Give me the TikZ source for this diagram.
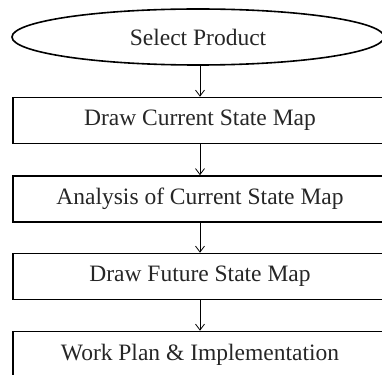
\documentclass[tikz,border=0pt]{standalone}
\usepackage{fontspec}
\setmainfont{Liberation Serif}
\usetikzlibrary{shapes.geometric,arrows.meta}
\begin{document}
\begin{tikzpicture}[x=1pt,y=-1pt,
  stepbox/.style={draw=black,line width=1.6pt,rectangle,minimum width=374pt,minimum height=46pt,inner sep=0pt,font=\fontsize{23.5}{26}\selectfont,text=black!85},
  startnode/.style={draw=black,line width=1.6pt,ellipse,minimum width=372pt,minimum height=56pt,inner sep=0pt,font=\fontsize{23.5}{26}\selectfont,text=black!85},
  flow/.style={line width=0.8pt,-{Straight Barb[length=6pt,width=9pt,line width=0.8pt]}}]
\useasboundingbox (0,0) rectangle (382,374);
\clip (0,0) rectangle (382,374);
\node[startnode] (s) at (198,37) {Select Product};
\node[stepbox] (b1) at (200,120.5) {Draw Current State Map};
\node[stepbox] (b2) at (200,199) {Analysis of Current State Map};
\node[stepbox] (b3) at (200,276.5) {Draw Future State Map};
\node[stepbox] (b4) at (200,354.5) {Work Plan \& Implementation};
\draw[flow] (s.south -| b1.north) -- (b1.north);
\draw[flow] (b1) -- (b2);
\draw[flow] (b2) -- (b3);
\draw[flow] (b3) -- (b4);
\end{tikzpicture}
\end{document}
